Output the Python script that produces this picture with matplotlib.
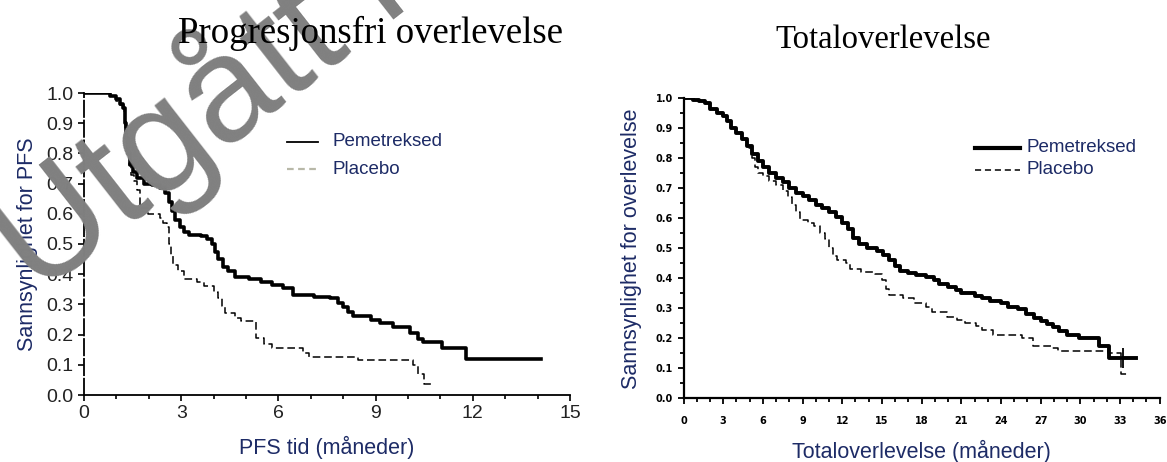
import matplotlib
matplotlib.use("Agg")
import matplotlib.pyplot as plt
from matplotlib.ticker import MultipleLocator

W, H = 1167, 462

# Kaplan-Meier estimates (months, survival)
pfs_pem_t = [0, 0.8, 1.0, 1.12, 1.2, 1.25, 1.3, 1.35, 1.42, 1.5, 1.65, 1.85, 2.1, 2.36,
             2.5, 2.62, 2.72, 2.82, 2.95, 3.1, 3.25, 3.6, 3.8, 3.95, 4.05, 4.15, 4.3,
             4.45, 4.65, 5.1, 5.45, 5.8, 6.15, 6.45, 7.1, 7.6, 7.85, 8.0, 8.15, 8.3,
             8.85, 9.15, 9.55, 10.05, 10.3, 10.45, 11.05, 11.8, 14.1]
pfs_pem_s = [1.0, 0.99, 0.98, 0.965, 0.95, 0.90, 0.85, 0.80, 0.76, 0.74, 0.72, 0.70,
             0.695, 0.685, 0.67, 0.64, 0.61, 0.58, 0.555, 0.54, 0.53, 0.525, 0.515,
             0.50, 0.475, 0.45, 0.425, 0.41, 0.39, 0.385, 0.375, 0.365, 0.355, 0.33,
             0.325, 0.32, 0.305, 0.29, 0.275, 0.26, 0.25, 0.24, 0.225, 0.205, 0.185,
             0.175, 0.155, 0.12, 0.12]

pfs_pla_t = [0, 0.8, 1.0, 1.12, 1.22, 1.28, 1.33, 1.38, 1.45, 1.55, 1.65, 1.72, 1.98,
             2.36, 2.45, 2.56, 2.62, 2.68, 2.75, 2.9, 3.1, 3.5, 3.7, 4.0, 4.15, 4.25,
             4.35, 4.65, 4.85, 5.3, 5.55, 5.8, 6.75, 6.95, 8.45, 10.15, 10.3, 10.5, 10.75]
pfs_pla_s = [1.0, 0.99, 0.975, 0.96, 0.94, 0.88, 0.82, 0.76, 0.73, 0.71, 0.68, 0.62,
             0.60, 0.585, 0.57, 0.555, 0.50, 0.46, 0.43, 0.41, 0.385, 0.375, 0.36,
             0.34, 0.32, 0.295, 0.27, 0.255, 0.245, 0.19, 0.17, 0.155, 0.14, 0.125,
             0.115, 0.10, 0.07, 0.035, 0.035]

os_pem_t = [0, 0.75, 1.2, 1.6, 2.0, 2.5, 3.0, 3.3, 3.6, 4.0, 4.4, 4.8, 5.2, 5.6, 6.0,
            6.5, 7.0, 7.5, 8.0, 8.5, 9.0, 9.5, 10.0, 10.5, 11.0, 11.5, 12.0, 12.4,
            12.8, 13.3, 13.9, 14.6, 15.1, 15.5, 16.0, 16.4, 17.0, 17.6, 18.3, 18.9,
            19.3, 20.0, 20.6, 21.0, 22.0, 22.6, 23.2, 24.0, 24.5, 25.3, 25.9, 26.5,
            27.0, 27.5, 27.9, 28.4, 29.0, 29.9, 31.4, 32.2, 34.2]
os_pem_s = [1.0, 0.995, 0.99, 0.985, 0.965, 0.95, 0.94, 0.925, 0.90, 0.885, 0.865,
            0.84, 0.815, 0.79, 0.77, 0.75, 0.735, 0.72, 0.70, 0.685, 0.675, 0.66,
            0.645, 0.635, 0.62, 0.605, 0.585, 0.565, 0.535, 0.515, 0.50, 0.49, 0.478,
            0.46, 0.44, 0.425, 0.418, 0.412, 0.405, 0.395, 0.382, 0.372, 0.36, 0.35,
            0.342, 0.333, 0.326, 0.318, 0.305, 0.298, 0.28, 0.268, 0.258, 0.248,
            0.238, 0.225, 0.212, 0.20, 0.175, 0.135, 0.135]

os_pla_t = [0, 0.75, 1.2, 1.6, 2.0, 2.5, 3.0, 3.3, 3.6, 4.0, 4.4, 4.8, 5.15, 5.4, 5.6,
            6.0, 6.5, 7.0, 7.5, 7.9, 8.2, 8.5, 8.8, 9.4, 9.9, 10.3, 10.7, 11.0, 11.3,
            11.6, 12.3, 12.6, 13.4, 14.5, 15.0, 15.3, 15.5, 16.6, 17.4, 18.3, 18.8,
            19.9, 20.7, 21.3, 22.1, 22.6, 23.4, 25.6, 26.4, 27.8, 28.3, 31.3, 32.1,
            33.1, 33.6]
os_pla_s = [1.0, 0.995, 0.99, 0.985, 0.965, 0.95, 0.94, 0.925, 0.90, 0.885, 0.865,
            0.835, 0.80, 0.77, 0.75, 0.74, 0.725, 0.71, 0.69, 0.67, 0.645, 0.62,
            0.595, 0.585, 0.575, 0.55, 0.53, 0.50, 0.475, 0.46, 0.45, 0.43, 0.42,
            0.415, 0.395, 0.365, 0.345, 0.333, 0.317, 0.303, 0.288, 0.272, 0.26,
            0.252, 0.242, 0.228, 0.21, 0.202, 0.175, 0.168, 0.157, 0.157, 0.152,
            0.08, 0.08]

pfs_xticks = [0, 3, 6, 9, 12, 15]
os_xticks = list(range(0, 37, 3))
yticks = [i / 10 for i in range(11)]

sans = "Liberation Sans"
serif = "Liberation Serif"
lab_color = "#1d2b66"


def fx(px):
    return px / W


def fy(py):
    return 1 - py / H


fig = plt.figure(figsize=(W / 100, H / 100), dpi=100)

# watermark behind everything (runs off the top edge as in the original)
fig.text(fx(38), fy(298), "Utgått legemiddel", fontsize=108, family=sans,
         color="#808080", rotation=38, ha="left", va="baseline", zorder=0,
         rotation_mode="anchor")

# ---- left: progression free survival ----
ax1 = fig.add_axes([fx(84), fy(395), fx(570) - fx(84), fy(93) - fy(395)])
ax1.patch.set_alpha(0)
ax1.step(pfs_pem_t, pfs_pem_s, where="post", color="black", lw=2.6)
ax1.step(pfs_pla_t, pfs_pla_s, where="post", color="black", lw=1.1, ls=(0, (5, 2.5)))
ax1.set_xlim(0, 15)
ax1.set_ylim(0, 1.0)
ax1.set_xticks(pfs_xticks)
ax1.xaxis.set_minor_locator(MultipleLocator(1))
ax1.set_yticks(yticks)
ax1.set_yticklabels(["%.1f" % v for v in yticks])
for s in ["top", "right"]:
    ax1.spines[s].set_visible(False)
ax1.spines["left"].set_linestyle((0, (9, 2)))
ax1.spines["left"].set_linewidth(1.3)
ax1.spines["bottom"].set_linewidth(1.3)
ax1.tick_params(which="both", direction="out", length=4, width=1.2, labelsize=14)
ax1.tick_params(which="minor", length=3)
for lb in ax1.get_xticklabels() + ax1.get_yticklabels():
    lb.set_family(sans)
    lb.set_color("#222222")
ax1.set_xlabel("PFS tid (måneder)", family=sans, fontsize=15.5, color=lab_color, labelpad=10)
ax1.set_ylabel("Sannsynlighet for PFS", family=sans, fontsize=15.5, color=lab_color, labelpad=6)

fig.text(fx(370), fy(33), "Progresjonsfri overlevelse", family=serif, fontsize=26.5,
         ha="center", va="center")

# legend drawn by hand in figure coordinates
fig.add_artist(plt.Line2D([fx(287), fx(318)], [fy(142), fy(142)], color="black", lw=1.3))
fig.add_artist(plt.Line2D([fx(287), fx(318)], [fy(169), fy(169)], color="#b8b8a8",
                          lw=1.6, ls=(0, (3, 2))))
fig.text(fx(333), fy(142), "Pemetreksed", family=sans, fontsize=13.5, color=lab_color, va="center")
fig.text(fx(333), fy(169), "Placebo", family=sans, fontsize=13.5, color=lab_color, va="center")

# ---- right: overall survival ----
ax2 = fig.add_axes([fx(683.5), fy(398.3), fx(1159.7) - fx(683.5), fy(98.3) - fy(398.3)])
ax2.patch.set_alpha(0)
ax2.step(os_pem_t, os_pem_s, where="post", color="black", lw=2.8)
ax2.step(os_pla_t, os_pla_s, where="post", color="black", lw=1.1, ls=(0, (5, 2.5)))
ax2.plot([33.2], [0.135], marker="+", ms=14, mew=1.3, color="black")
ax2.set_xlim(0, 36)
ax2.set_ylim(0, 1.0)
ax2.set_xticks(os_xticks)
ax2.xaxis.set_minor_locator(MultipleLocator(1))
ax2.set_yticks(yticks)
ax2.set_yticklabels(["%.1f" % v for v in yticks])
ax2.yaxis.set_minor_locator(MultipleLocator(0.05))
for s in ["top", "right"]:
    ax2.spines[s].set_visible(False)
ax2.spines["left"].set_linewidth(1.6)
ax2.spines["bottom"].set_linewidth(1.6)
ax2.tick_params(which="both", direction="out", length=4, width=1.3, labelsize=7)
ax2.tick_params(which="minor", length=3)
ax2.tick_params(axis="x", pad=9)
for lb in ax2.get_xticklabels() + ax2.get_yticklabels():
    lb.set_family("DejaVu Sans")
    lb.set_weight("bold")
ax2.set_xlabel("Totaloverlevelse (måneder)", family=sans, fontsize=15.5, color=lab_color, labelpad=10)
ax2.set_ylabel("Sannsynlighet for overlevelse", family=sans, fontsize=15.5, color=lab_color,
               labelpad=10)

fig.text(fx(883), fy(40), "Totaloverlevelse", family=serif, fontsize=23.5, ha="center", va="center")

fig.add_artist(plt.Line2D([fx(975), fx(1020)], [fy(148), fy(148)], color="black", lw=3.0))
fig.add_artist(plt.Line2D([fx(975), fx(1020)], [fy(170), fy(170)], color="black", lw=1.1,
                          ls=(0, (4, 2.5))))
fig.text(fx(1027), fy(148), "Pemetreksed", family=sans, fontsize=13.5, color=lab_color, va="center")
fig.text(fx(1027), fy(170), "Placebo", family=sans, fontsize=13.5, color=lab_color, va="center")

fig.savefig("out.png", dpi=100)
